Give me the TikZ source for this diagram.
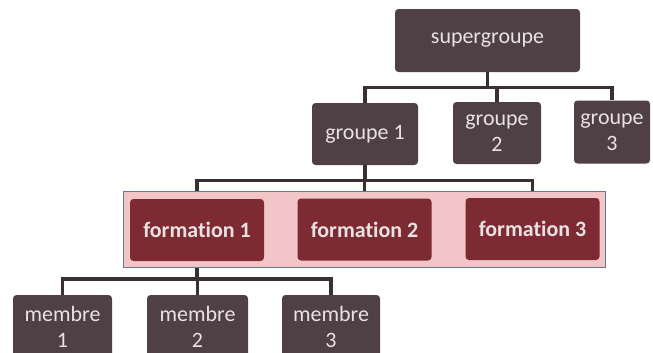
\documentclass[tikz,border=0pt]{standalone}
\usepackage{fontspec}
\setmainfont{Carlito}[Ligatures=NoCommon]
\usetikzlibrary{positioning, fit, backgrounds}
\definecolor{boxgray}{HTML}{4F4046}
\definecolor{boxred}{HTML}{7D2A33}
\definecolor{bandpink}{HTML}{F2C6C8}
\definecolor{bandline}{HTML}{5E7C98}
\definecolor{linkgray}{HTML}{3A3034}
\definecolor{txt}{HTML}{EAE2E2}
\tikzset{x=0.02cm, y=-0.02cm,
unit/.style={rectangle, rounded corners=2pt, fill=boxgray, text=txt, align=center,
  font=\fontsize{12.5}{15}\selectfont, inner sep=0pt},
form/.style={unit, fill=boxred, minimum width=134*0.02cm, minimum height=62*0.02cm,
  font=\fontsize{12.5}{15}\selectfont\bfseries},
band/.style={draw=bandline, line width=0.7pt, fill=bandpink, inner sep=6*0.02cm},
link/.style={draw=linkgray, line width=2pt},
}

\begin{document}
\begin{tikzpicture}
\clip (0,0) rectangle (653,352);
    \node[unit, minimum width=185*0.02cm, minimum height=63*0.02cm] (sg) at (487.5,40.5) {supergroupe};

    \node[unit, minimum width=106*0.02cm, minimum height=62*0.02cm] (g1) at (365,134) {groupe 1};
    \node[unit, minimum width=88*0.02cm, minimum height=62*0.02cm] (g2) at (497,133) {groupe\\2};
    \node[unit, minimum width=76*0.02cm, minimum height=63*0.02cm] (g3) at (612,132) {groupe\\3};

    \node[form] (f1) at (197,230) {formation 1};
    \node[form] (f2) at (364.5,229.5) {formation 2};
    \node[form] (f3) at (532.5,229) {formation 3};
    \begin{scope}[on background layer]
    \fill[white] (0,0) rectangle (653,352);
    \node[band, fit=(f1)(f3)] (bd) {};
    \end{scope}

    \node[unit, minimum width=99*0.02cm, minimum height=64*0.02cm] (m1) at (62.5,327) {membre\\1};
    \node[unit, minimum width=101*0.02cm, minimum height=64*0.02cm] (m2) at (197.5,327) {membre\\2};
    \node[unit, minimum width=98*0.02cm, minimum height=64*0.02cm] (m3) at (331,327) {membre\\3};

    % liaisons
    \draw[link] (sg.south) -- ++(0,15) coordinate (b1);
    \draw[link] (b1) -| (g1.north);
    \draw[link] (b1) -| (g2.north);
    \draw[link] (b1) -| (g3.north);

    \draw[link] (g1.south) -- ++(0,15) coordinate (b2);
    \draw[link] (b2) -| (f1 |- bd.north);
    \draw[link] (b2) -| (f2 |- bd.north);
    \draw[link] (b2) -| (f3 |- bd.north);

    \draw[link] (f1 |- bd.south) -- ++(0,11) coordinate (b3);
    \draw[link] (b3) -| (m1.north);
    \draw[link] (b3) -| (m2.north);
    \draw[link] (b3) -| (m3.north);
\end{tikzpicture}
\end{document}
